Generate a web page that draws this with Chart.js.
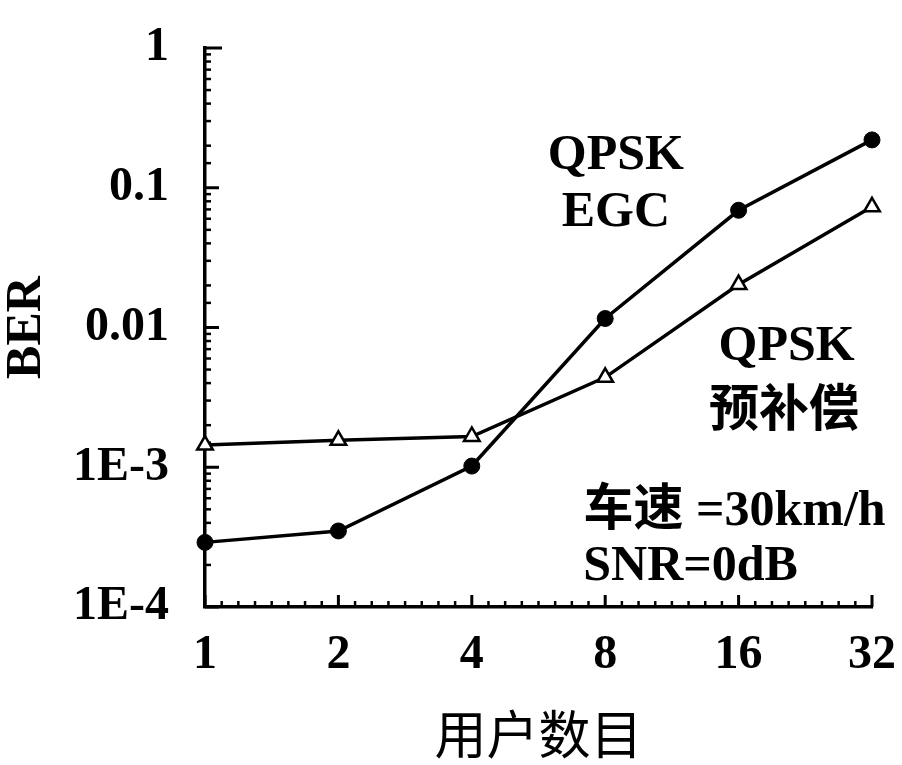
<!DOCTYPE html>
<html>
<head>
<meta charset="utf-8">
<script src="https://cdn.jsdelivr.net/npm/chart.js@4.4.0/dist/chart.umd.min.js"></script>
<style>
  html, body { margin: 0; padding: 0; background: #fff; }
  canvas { display: block; }
</style>
</head>
<body>
<canvas id="berChart" width="902" height="765"></canvas>
<script>
// Number of users (evenly spaced, powers of two)
const userCounts = ['1', '2', '4', '8', '16', '32'];

// Bit error rate, QPSK with equal gain combining
const berEGC = [2.9e-4, 3.5e-4, 1.02e-3, 0.0116, 0.069, 0.22];

// Bit error rate, QPSK with pre-compensation
const berPrecomp = [1.44e-3, 1.56e-3, 1.66e-3, 4.4e-3, 0.0203, 0.073];

// Labelled decades on the BER axis
const yMajorValues = [1e-4, 1e-3, 1e-2, 1e-1, 1];
const yMajorText = ['1E-4', '1E-3', '0.01', '0.1', '1'];

// In-plot notes: [text, x (category index), y (BER)]
const notes = [
  ['QPSK', 3.08, 0.169],
  ['EGC', 3.08, 0.066],
  ['QPSK', 4.36, 0.0072],
  ['预补偿', 4.34, 0.00243],
  ['车速 =30km/h', 3.97, 4.77e-4],
  ['SNR=0dB', 3.64, 1.93e-4]
];

const SERIF = '"Liberation Serif", "Times New Roman", "Noto Sans CJK SC", serif';
const CJK = '"Noto Sans CJK SC", "Liberation Serif", sans-serif';

// Inward-pointing tick marks on both axes
const inwardTicks = {
  id: 'inwardTicks',
  beforeDatasetsDraw(chart) {
    const { ctx, scales: { x, y }, chartArea } = chart;
    ctx.save();
    ctx.strokeStyle = '#000';
    ctx.lineCap = 'butt';
    // y axis: log ticks, decades longer
    y.ticks.forEach(t => {
      const lg = Math.log10(t.value);
      const major = Math.abs(lg - Math.round(lg)) < 1e-6;
      const py = y.getPixelForValue(t.value);
      const len = t.value === 1 ? 17 : (major ? 14 : 6);
      ctx.lineWidth = major ? 3 : 2.5;
      ctx.beginPath();
      ctx.moveTo(chartArea.left, py);
      ctx.lineTo(chartArea.left + len, py);
      ctx.stroke();
    });
    // x axis: major ticks at each user count, minor ticks between
    const n = userCounts.length;
    const minorPerGap = 7;
    for (let i = 0; i < n; i++) {
      const px = x.getPixelForValue(i);
      ctx.lineWidth = 3;
      ctx.beginPath();
      ctx.moveTo(px, chartArea.bottom);
      ctx.lineTo(px, chartArea.bottom - 12);
      ctx.stroke();
      if (i < n - 1) {
        ctx.lineWidth = 2.5;
        for (let k = 1; k <= minorPerGap; k++) {
          const mx = x.getPixelForValue(i + k / (minorPerGap + 1));
          ctx.beginPath();
          ctx.moveTo(mx, chartArea.bottom);
          ctx.lineTo(mx, chartArea.bottom - 6);
          ctx.stroke();
        }
      }
    }
    ctx.restore();
  }
};

// Curve names and operating conditions written inside the plot
const plotNotes = {
  id: 'plotNotes',
  afterDraw(chart) {
    const { ctx, scales: { x, y } } = chart;
    ctx.save();
    ctx.fillStyle = '#000';
    ctx.textAlign = 'center';
    ctx.textBaseline = 'middle';
    ctx.font = 'bold 50px ' + SERIF;
    notes.forEach(([text, xi, v]) => {
      ctx.fillText(text, x.getPixelForValue(xi), y.getPixelForValue(v));
    });
    ctx.restore();
  }
};

new Chart(document.getElementById('berChart'), {
  type: 'line',
  data: {
    labels: userCounts,
    datasets: [
      {
        label: 'QPSK EGC',
        data: berEGC,
        borderColor: '#000',
        borderWidth: 3.5,
        tension: 0,
        pointStyle: 'circle',
        pointRadius: 8,
        pointBackgroundColor: '#000',
        pointBorderColor: '#000',
        pointBorderWidth: 1
      },
      {
        label: 'QPSK 预补偿',
        data: berPrecomp,
        borderColor: '#000',
        borderWidth: 3.5,
        tension: 0,
        pointStyle: 'triangle',
        pointRadius: 9,
        pointBackgroundColor: '#fff',
        pointBorderColor: '#000',
        pointBorderWidth: 2.5
      }
    ]
  },
  options: {
    responsive: false,
    animation: false,
    devicePixelRatio: 1,
    layout: { padding: { top: 48, right: 30, left: 0, bottom: 0 } },
    plugins: {
      legend: { display: false },
      tooltip: { enabled: false }
    },
    scales: {
      x: {
        type: 'category',
        offset: false,
        grid: { display: false, drawTicks: false },
        border: { display: true, color: '#000', width: 3.5 },
        ticks: {
          color: '#000',
          font: { family: SERIF, size: 48, weight: 'bold' },
          padding: 20,
          maxRotation: 0,
          autoSkip: false
        },
        title: {
          display: true,
          text: '用户数目',
          color: '#000',
          font: { family: CJK, size: 52, lineHeight: 1.1 },
          padding: { top: 0, bottom: 2 }
        },
        afterFit(scale) {
          scale.height = 765 - 607;
          scale.paddingLeft = 0;
          scale.paddingRight = 0;
        }
      },
      y: {
        type: 'logarithmic',
        min: 1e-4,
        max: 1,
        grid: { display: false, drawTicks: false },
        border: { display: true, color: '#000', width: 3.5 },
        ticks: {
          color: '#000',
          font: { family: SERIF, size: 48, weight: 'bold' },
          padding: 36,
          autoSkip: false,
          callback(value) {
            const idx = yMajorValues.findIndex(m => Math.abs(Math.log10(value) - Math.log10(m)) < 1e-6);
            return idx >= 0 ? yMajorText[idx] : '';
          }
        },
        title: {
          display: true,
          text: 'BER',
          color: '#000',
          font: { family: SERIF, size: 50, weight: 'bold', lineHeight: 1.1 },
          padding: { top: 0, bottom: 0 }
        },
        afterFit(scale) {
          scale.width = 205;
          scale.paddingTop = 0;
          scale.paddingBottom = 0;
        }
      }
    }
  },
  plugins: [inwardTicks, plotNotes]
});
</script>
</body>
</html>
